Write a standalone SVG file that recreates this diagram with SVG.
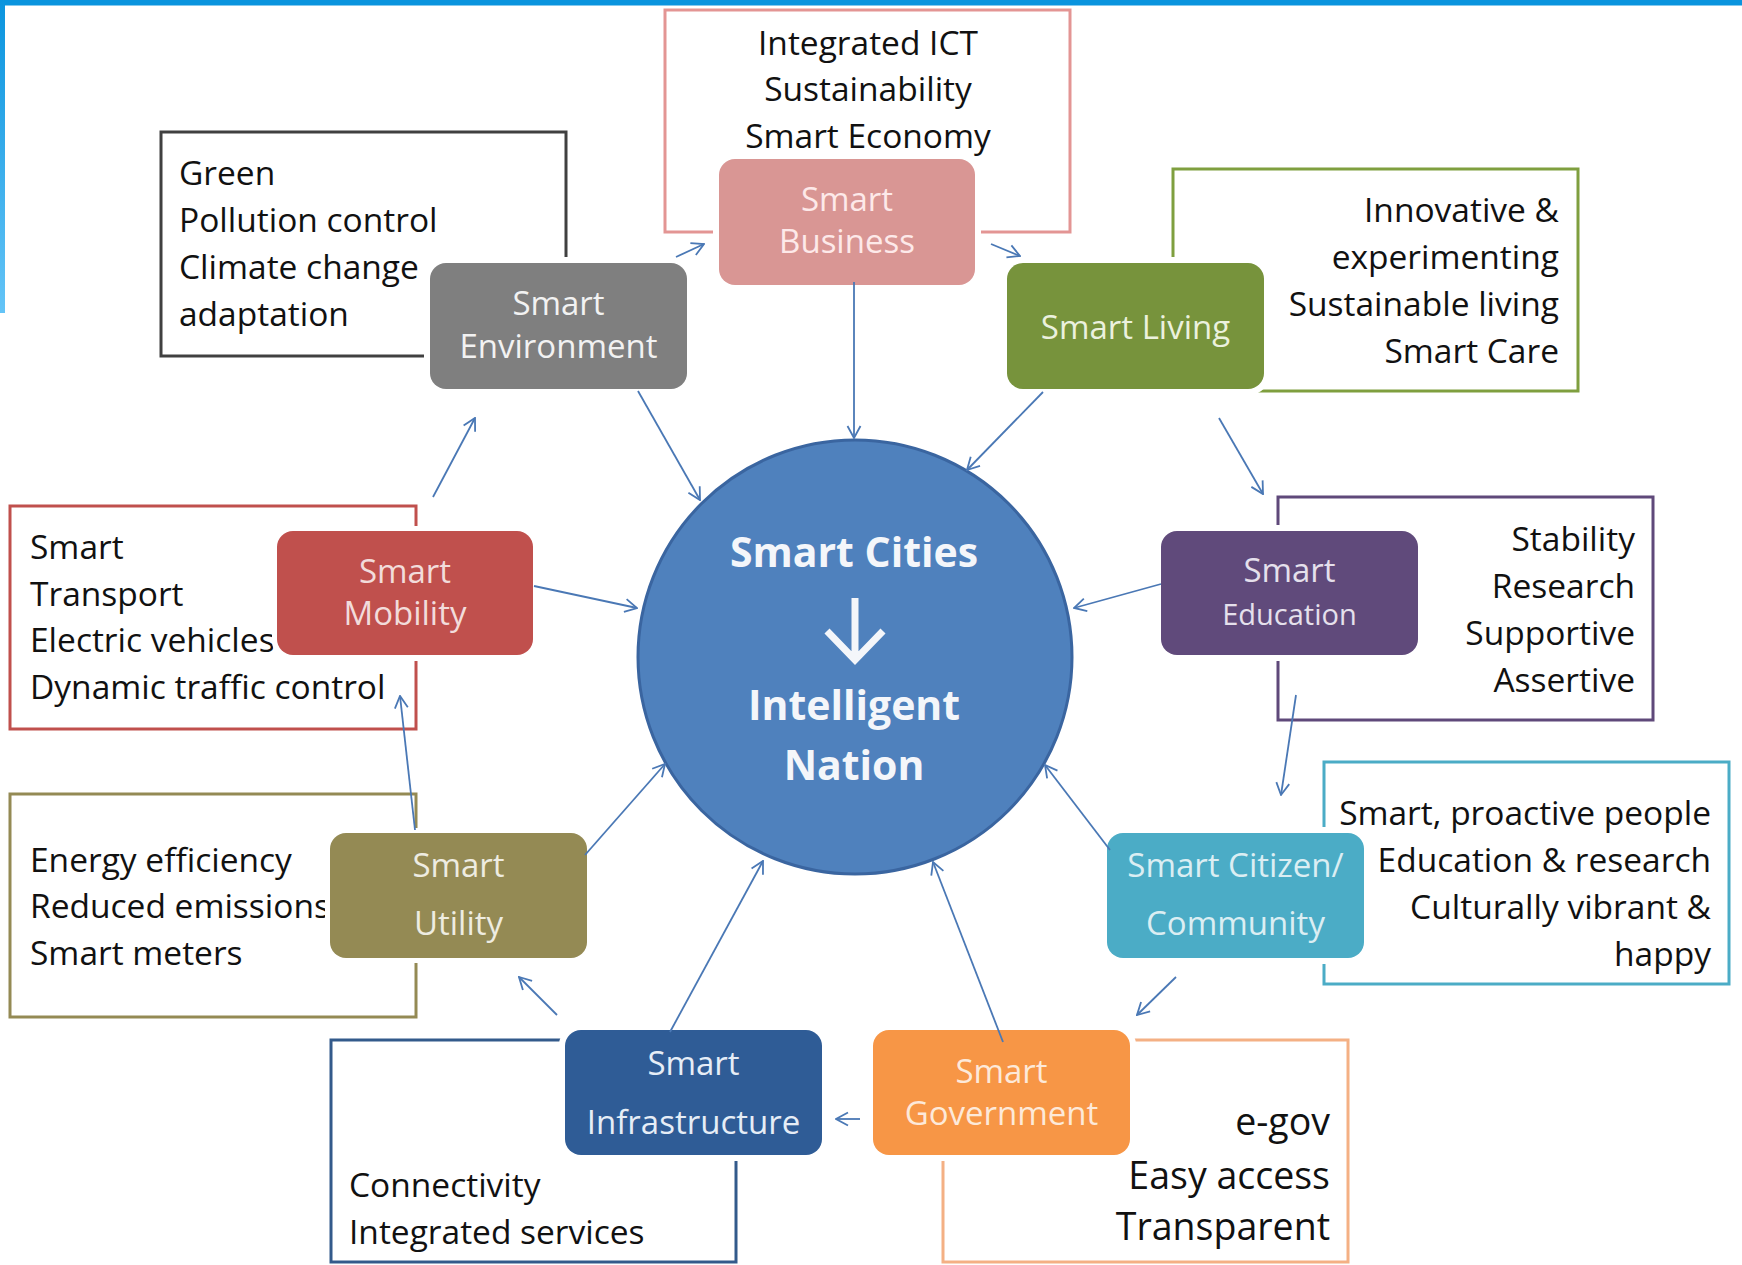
<svg xmlns="http://www.w3.org/2000/svg" width="1742" height="1265" viewBox="0 0 1742 1265">
<defs>
<linearGradient id="edge" x1="0" y1="0" x2="0" y2="1">
<stop offset="0" stop-color="#0a94de"/>
<stop offset="1" stop-color="#64c4f7"/>
</linearGradient>
<marker id="ah" viewBox="0 0 14 16" refX="13" refY="8" markerWidth="14" markerHeight="16" markerUnits="userSpaceOnUse" orient="auto">
<path d="M1,1.5 L13,8 L1,14.5" fill="none" stroke="#4a78b5" stroke-width="1.8"/>
</marker>
<style>
.box{fill:#fff;stroke-width:3}
.t{font-family:"Open Sans","Noto Sans",sans-serif;font-size:33.5px;fill:#111}
.e{text-anchor:end}
.m{text-anchor:middle}
.halo{fill:#fff}
.nl{font-family:"Open Sans","Noto Sans",sans-serif;font-size:33px;text-anchor:middle}
.ct{font-family:"Open Sans","Noto Sans",sans-serif;font-weight:bold;font-size:41px;text-anchor:middle;fill:#f4f6fa}
.conn{stroke:#4a78b5;stroke-width:1.8;fill:none;marker-end:url(#ah)}
</style>
</defs>
<rect width="1742" height="1265" fill="#fff"/>
<rect x="0" y="0" width="1742" height="5.5" fill="#0a94de"/>
<rect x="0" y="0" width="5" height="313" fill="url(#edge)"/>

<g id="smart-environment">
<rect class="box" x="161" y="132" width="405" height="224" stroke="#404040"/>
<text class="t" x="179" y="185">Green</text>
<text class="t" x="179" y="232">Pollution control</text>
<text class="t" x="179" y="279">Climate change</text>
<text class="t" x="179" y="326">adaptation</text>
<rect class="halo" x="424" y="257" width="269" height="138" rx="21"/>
<rect x="430" y="263" width="257" height="126" rx="16" fill="#7f7f7f"/>
<text class="nl" x="558.5" y="315" fill="#f2f2f2">Smart</text>
<text class="nl" x="558.5" y="358" fill="#f2f2f2">Environment</text>
</g>

<g id="smart-business">
<rect class="box" x="665" y="10" width="405" height="222" stroke="#e39594"/>
<text class="t m" x="868" y="55">Integrated ICT</text>
<text class="t m" x="868" y="101">Sustainability</text>
<text class="t m" x="868" y="148">Smart Economy</text>
<rect class="halo" x="713" y="153" width="268" height="138" rx="21"/>
<rect x="719" y="159" width="256" height="126" rx="16" fill="#d99694"/>
<text class="nl" x="847" y="211" fill="#fde9e9">Smart</text>
<text class="nl" x="847" y="253" fill="#fde9e9">Business</text>
</g>

<g id="smart-living">
<rect class="box" x="1173" y="169" width="405" height="222" stroke="#7f9f3f"/>
<text class="t e" x="1559" y="222">Innovative &amp;</text>
<text class="t e" x="1559" y="269">experimenting</text>
<text class="t e" x="1559" y="316">Sustainable living</text>
<text class="t e" x="1559" y="363">Smart Care</text>
<rect class="halo" x="1001" y="257" width="269" height="138" rx="21"/>
<rect x="1007" y="263" width="257" height="126" rx="16" fill="#77933c"/>
<text class="nl" x="1135.5" y="339" fill="#ebf1de">Smart Living</text>
</g>

<g id="smart-mobility">
<rect class="box" x="10" y="506" width="406" height="223" stroke="#c0504d"/>
<text class="t" x="30" y="559">Smart</text>
<text class="t" x="30" y="606">Transport</text>
<text class="t" x="30" y="652">Electric vehicles</text>
<text class="t" x="30" y="699">Dynamic traffic control</text>
<rect class="halo" x="272" y="526" width="267" height="135" rx="20"/>
<rect x="277" y="531" width="256" height="124" rx="16" fill="#c0504d"/>
<text class="nl" x="405" y="583" fill="#f2dcdb">Smart</text>
<text class="nl" x="405" y="625" fill="#f2dcdb">Mobility</text>
</g>

<g id="smart-education">
<rect class="box" x="1278" y="497" width="375" height="223" stroke="#5f497a"/>
<text class="t e" x="1635" y="551">Stability</text>
<text class="t e" x="1635" y="598">Research</text>
<text class="t e" x="1635" y="645">Supportive</text>
<text class="t e" x="1635" y="692">Assertive</text>
<rect class="halo" x="1155" y="525" width="269" height="136" rx="21"/>
<rect x="1161" y="531" width="257" height="124" rx="16" fill="#604a7b"/>
<text class="nl" x="1289.5" y="582" fill="#e5e0ec">Smart</text>
<text class="nl" x="1289.5" y="625" fill="#e5e0ec" style="font-size:29px">Education</text>
</g>

<g id="smart-citizen">
<rect class="box" x="1324" y="762" width="405" height="222" stroke="#4bacc6"/>
<text class="t e" x="1711" y="825">Smart, proactive people</text>
<text class="t e" x="1711" y="872">Education &amp; research</text>
<text class="t e" x="1711" y="919">Culturally vibrant &amp;</text>
<text class="t e" x="1711" y="966">happy</text>
<rect class="halo" x="1101" y="827" width="269" height="137" rx="21"/>
<rect x="1107" y="833" width="257" height="125" rx="16" fill="#4bacc6"/>
<text class="nl" x="1235.5" y="877" fill="#dbeef3">Smart Citizen/</text>
<text class="nl" x="1235.5" y="935" fill="#dbeef3">Community</text>
</g>

<g id="smart-utility">
<rect class="box" x="10" y="794" width="406" height="223" stroke="#948a54"/>
<text class="t" x="30" y="872">Energy efficiency</text>
<text class="t" x="30" y="918">Reduced emissions</text>
<text class="t" x="30" y="965">Smart meters</text>
<rect class="halo" x="325" y="828" width="267" height="135" rx="20"/>
<rect x="330" y="833" width="257" height="125" rx="16" fill="#948a54"/>
<text class="nl" x="458.5" y="877" fill="#eeece1">Smart</text>
<text class="nl" x="458.5" y="935" fill="#eeece1">Utility</text>
</g>

<g id="smart-infrastructure">
<rect class="box" x="331" y="1040" width="405" height="222" stroke="#335a8b"/>
<text class="t" x="349" y="1197">Connectivity</text>
<text class="t" x="349" y="1244">Integrated services</text>
<rect class="halo" x="559" y="1024" width="269" height="137" rx="21"/>
<rect x="565" y="1030" width="257" height="125" rx="16" fill="#2f5c96"/>
<text class="nl" x="693.5" y="1075" fill="#e6edf6">Smart</text>
<text class="nl" x="693.5" y="1134" fill="#e6edf6">Infrastructure</text>
</g>

<g id="smart-government">
<rect class="box" x="943" y="1040" width="405" height="222" stroke="#f4b084"/>
<text class="t e" x="1330" y="1135" style="font-size:37.5px">e-gov</text>
<text class="t e" x="1330" y="1189" style="font-size:37.5px">Easy access</text>
<text class="t e" x="1330" y="1240" style="font-size:37.5px">Transparent</text>
<rect class="halo" x="867" y="1024" width="269" height="137" rx="21"/>
<rect x="873" y="1030" width="257" height="125" rx="16" fill="#f79646"/>
<text class="nl" x="1001.5" y="1083" fill="#fde9d9">Smart</text>
<text class="nl" x="1001.5" y="1125" fill="#fde9d9">Government</text>
</g>

<g id="smart-cities">
<circle cx="855" cy="657" r="217" fill="#4f81bd" stroke="#3a65a0" stroke-width="3"/>
<text class="ct" x="854" y="567">Smart Cities</text>
<path d="M855,598 L855,660 M827,631 L855,660 L883,631" fill="none" stroke="#f4f6fa" stroke-width="7"/>
<text class="ct" x="854" y="720">Intelligent</text>
<text class="ct" x="854" y="780">Nation</text>
</g>

<g id="connectors">
<path class="conn" d="M854,282 L854,438"/>
<path class="conn" d="M638,391 L700,500"/>
<path class="conn" d="M1043,392 L967,470"/>
<path class="conn" d="M534,586 L637,608"/>
<path class="conn" d="M1161,584 L1074,608"/>
<path class="conn" d="M585,855 L665,764"/>
<path class="conn" d="M670,1032 L763,861"/>
<path class="conn" d="M1003,1042 L933,862"/>
<path class="conn" d="M1110,850 L1045,765"/>
<path class="conn" d="M676,257 L704,244"/>
<path class="conn" d="M991,244 L1020,256"/>
<path class="conn" d="M1219,418 L1263,494"/>
<path class="conn" d="M1296,695 L1281,795"/>
<path class="conn" d="M1176,977 L1137,1015"/>
<path class="conn" d="M860,1119 L836,1119"/>
<path class="conn" d="M557,1015 L519,977"/>
<path class="conn" d="M415,830 L400,696"/>
<path class="conn" d="M433,497 L475,418"/>
</g>
</svg>
